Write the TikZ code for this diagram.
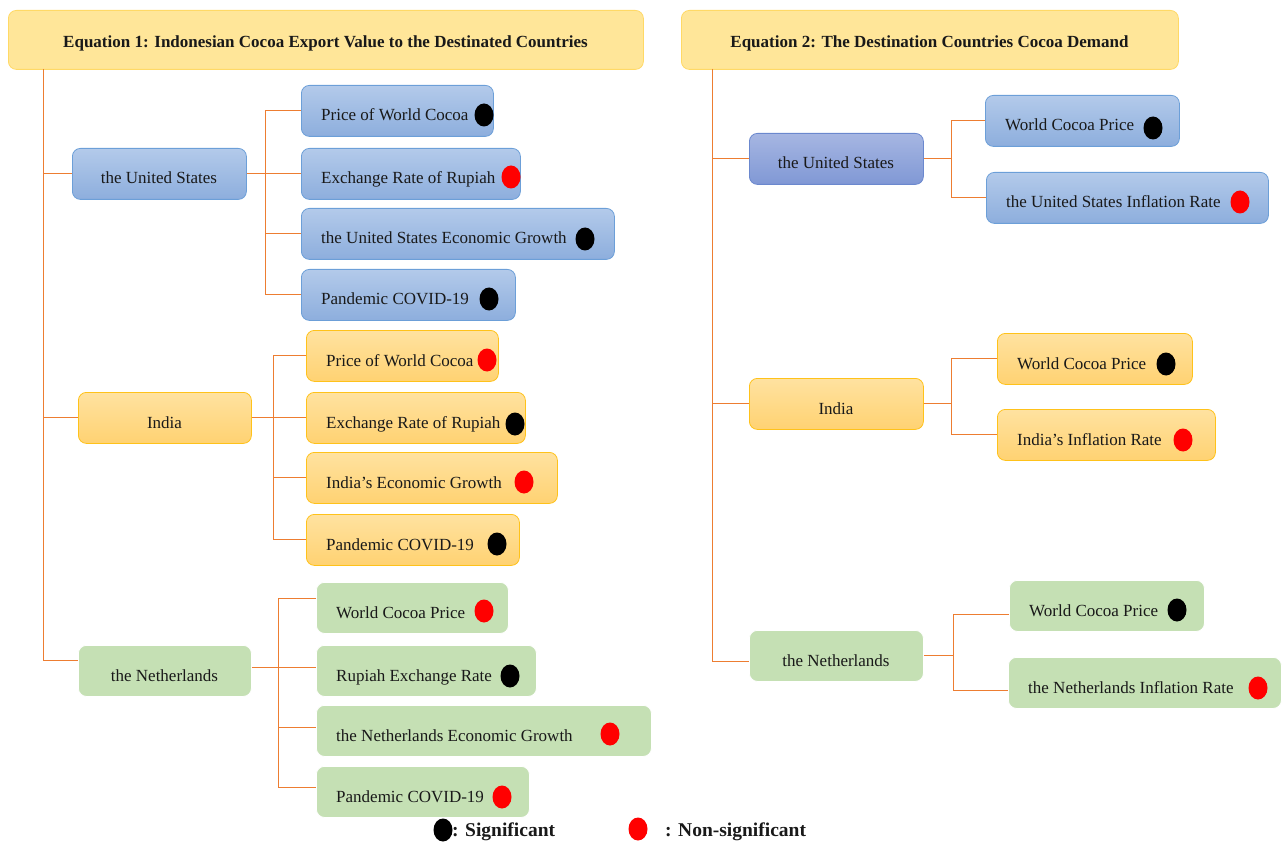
\documentclass[tikz,border=0pt]{standalone}
\usepackage{fontspec}
\setmainfont{Liberation Serif}
\usetikzlibrary{shapes.geometric}
\definecolor{hdrfill}{HTML}{FFE699}
\definecolor{hdrdraw}{HTML}{FFD966}
\definecolor{bluetop}{HTML}{B3CAEA}
\definecolor{bluebot}{HTML}{8DAEDD}
\definecolor{bluedraw}{HTML}{6C9FD8}
\definecolor{dbluetop}{HTML}{A6B6E2}
\definecolor{dbluebot}{HTML}{8098D5}
\definecolor{dbluedraw}{HTML}{6B88CE}
\definecolor{orgtop}{HTML}{FFE2A0}
\definecolor{orgbot}{HTML}{FFD272}
\definecolor{orgdraw}{HTML}{FFC21A}
\definecolor{grnfill}{HTML}{C5E0B4}
\definecolor{connc}{HTML}{ED7D31}
\definecolor{nsred}{HTML}{FF0000}
\tikzset{
  boxbase/.style={rectangle, rounded corners=8pt, minimum height=51pt, inner sep=0pt, line width=0.8pt},
  hdrbox/.style={boxbase, fill=hdrfill, draw=hdrdraw, minimum height=59pt},
  bluebox/.style={boxbase, top color=bluetop, bottom color=bluebot, draw=bluedraw},
  dbluebox/.style={boxbase, top color=dbluetop, bottom color=dbluebot, draw=dbluedraw},
  orgbox/.style={boxbase, top color=orgtop, bottom color=orgbot, draw=orgdraw},
  grnbox/.style={boxbase, fill=grnfill, draw=white},
  lbl/.style={inner sep=0pt, font=\fontsize{17}{20}\selectfont, text=black!90},
  hlbl/.style={inner sep=0pt, font=\fontsize{17}{20}\selectfont\bfseries, text=black!90},
  leglbl/.style={inner sep=0pt, font=\fontsize{19.5}{23}\selectfont\bfseries, text=black!90},
  sig/.style={ellipse, fill=black, minimum width=19pt, minimum height=23pt, inner sep=0pt},
  nsig/.style={ellipse, fill=nsred, minimum width=19pt, minimum height=23pt, inner sep=0pt},
  conn/.style={draw=connc, line width=1pt},
}
% leaf box: name, style, x, y(top), width, text
\newcommand\leafbox[6]{%
  \node[#2, anchor=north west, minimum width=#5] (#1) at (#3,#4) {};
  \node[lbl, anchor=base west] (#1t) at ({#3+20},{#4+36}) {#6};}
% centred box: name, style, x, y(top), width, text
\newcommand\ctrbox[6]{%
  \node[#2, anchor=north west, minimum width=#5] (#1) at (#3,#4) {};
  \node[lbl, anchor=base] (#1t) at ({#3+#5/2},{#4+36}) {#6};}
\begin{document}
\begin{tikzpicture}[x=1pt,y=-1pt]
\useasboundingbox (0,0) rectangle (1282,842);
% ---------- headers ----------
\node[hdrbox, anchor=north west, minimum width=635] (h1) at (8,10) {};
\node[hlbl, anchor=base] (h1t) at (325.5,48) {Equation 1: Indonesian Cocoa Export Value to the Destinated Countries};
\node[hdrbox, anchor=north west, minimum width=497] (h2) at (681,10) {};
\node[hlbl, anchor=base] (h2t) at (929.5,48) {Equation 2: The Destination Countries Cocoa Demand};

% ---------- left: countries ----------
\ctrbox{lus}{bluebox}{72}{148}{174}{the United States}
\ctrbox{lin}{orgbox}{78}{392}{173}{India}
\ctrbox{lnl}{grnbox}{78}{645}{173}{the Netherlands}

% left US leaves
\leafbox{lu1}{bluebox}{301}{85}{192}{Price of World Cocoa}
\leafbox{lu2}{bluebox}{301}{148}{219}{Exchange Rate of Rupiah}
\leafbox{lu3}{bluebox}{301}{208}{313}{the United States Economic Growth}
\leafbox{lu4}{bluebox}{301}{269}{214}{Pandemic COVID-19}
\node[sig]  (dlu1) at (484,115) {};
\node[nsig] (dlu2) at (511,177) {};
\node[sig]  (dlu3) at (585,239) {};
\node[sig]  (dlu4) at (489,299) {};

% left India leaves
\leafbox{li1}{orgbox}{306}{330}{192}{Price of World Cocoa}
\leafbox{li2}{orgbox}{306}{392}{219}{Exchange Rate of Rupiah}
\leafbox{li3}{orgbox}{306}{452}{251}{India’s Economic Growth}
\leafbox{li4}{orgbox}{306}{514}{213}{Pandemic COVID-19}
\node[nsig] (dli1) at (487,360) {};
\node[sig]  (dli2) at (515,424) {};
\node[nsig] (dli3) at (524,482) {};
\node[sig]  (dli4) at (497,544) {};

% left Netherlands leaves
\leafbox{ln1}{grnbox}{316}{582}{192}{World Cocoa Price}
\leafbox{ln2}{grnbox}{316}{645}{220}{Rupiah Exchange Rate}
\leafbox{ln3}{grnbox}{316}{705}{335}{the Netherlands Economic Growth}
\leafbox{ln4}{grnbox}{316}{766}{213}{Pandemic COVID-19}
\node[nsig] (dln1) at (484,611) {};
\node[sig]  (dln2) at (510,676) {};
\node[nsig] (dln3) at (610,734) {};
\node[nsig] (dln4) at (502,797) {};

% ---------- right: countries ----------
\ctrbox{rus}{dbluebox}{749}{133}{174}{the United States}
\ctrbox{rin}{orgbox}{749}{378}{174}{India}
\ctrbox{rnl}{grnbox}{749}{630}{174}{the Netherlands}

\leafbox{ru1}{bluebox}{985}{95}{194}{World Cocoa Price}
\leafbox{ru2}{bluebox}{986}{172}{282}{the United States Inflation Rate}
\node[sig]  (dru1) at (1153,128) {};
\node[nsig] (dru2) at (1240,202) {};

\leafbox{ri1}{orgbox}{997}{333}{195}{World Cocoa Price}
\leafbox{ri2}{orgbox}{997}{409}{218}{India’s Inflation Rate}
\node[sig]  (dri1) at (1166,364) {};
\node[nsig] (dri2) at (1183,440) {};

\leafbox{rn1}{grnbox}{1009}{580}{195}{World Cocoa Price}
\leafbox{rn2}{grnbox}{1008}{657}{273}{the Netherlands Inflation Rate}
\node[sig]  (drn1) at (1177,610) {};
\node[nsig] (drn2) at (1258,688) {};

% ---------- attachment points ----------
\coordinate (lnlw) at ([yshift=10]lnl.west);
\coordinate (lnle) at ([yshift=3]lnl.east);
\coordinate (ln1w) at ([yshift=9.5]ln1.west);
\coordinate (ln2w) at ([yshift=3.5]ln2.west);
\coordinate (ln3w) at ([yshift=3.5]ln3.west);
\coordinate (ln4w) at ([yshift=4.5]ln4.west);
\coordinate (rnlw) at ([yshift=-6]rnl.west);
\coordinate (rn1w) at ([yshift=-8.5]rn1.west);
\coordinate (rn2w) at ([yshift=-7.5]rn2.west);

% ---------- connectors, left ----------
\coordinate (lt) at (43,69);
\draw[conn] (lt) |- (lnlw);
\draw[conn] (lt |- lus.west) -- (lus.west);
\draw[conn] (lt |- lin.west) -- (lin.west);
% US
\coordinate (luj) at ([xshift=19]lus.east);
\draw[conn] (lus.east) -- (luj);
\draw[conn] (lu1.west) -| (luj |- lu4.west) -- (lu4.west);
\draw[conn] (luj |- lu2.west) -- (lu2.west);
\draw[conn] (luj |- lu3.west) -- (lu3.west);
% India
\coordinate (lij) at ([xshift=22]lin.east);
\draw[conn] (lin.east) -- (lij);
\draw[conn] (li1.west) -| (lij |- li4.west) -- (li4.west);
\draw[conn] (lij |- li2.west) -- (li2.west);
\draw[conn] (lij |- li3.west) -- (li3.west);
% Netherlands
\coordinate (lnj) at ([xshift=27]lnle);
\draw[conn] (lnle) -- (lnj);
\draw[conn] (ln1w) -| (lnj |- ln4w) -- (ln4w);
\draw[conn] (lnj |- ln2w) -- (ln2w);
\draw[conn] (lnj |- ln3w) -- (ln3w);

% ---------- connectors, right ----------
\coordinate (rt) at (712,69);
\draw[conn] (rt) |- (rnlw);
\draw[conn] (rt |- rus.west) -- (rus.west);
\draw[conn] (rt |- rin.west) -- (rin.west);
% US
\coordinate (ruj) at ([xshift=28]rus.east);
\draw[conn] (rus.east) -- (ruj);
\draw[conn] (ru1.west) -| (ruj |- ru2.west) -- (ru2.west);
% India
\coordinate (rij) at ([xshift=28]rin.east);
\draw[conn] (rin.east) -- (rij);
\draw[conn] (ri1.west) -| (rij |- ri2.west) -- (ri2.west);
% Netherlands
\coordinate (rnj) at ([xshift=30]rnl.east);
\draw[conn] (rnl.east) -- (rnj);
\draw[conn] (rn1w) -| (rnj |- rn2w) -- (rn2w);

% ---------- legend ----------
\node[sig]  (lg1) at (443,830) {};
\node[leglbl, anchor=base west] (lg1t) at (452,836.5) {: Significant};
\node[nsig] (lg2) at (638,829) {};
\node[leglbl, anchor=base west] (lg2t) at (665,836.5) {: Non-significant};
\end{tikzpicture}
\end{document}
